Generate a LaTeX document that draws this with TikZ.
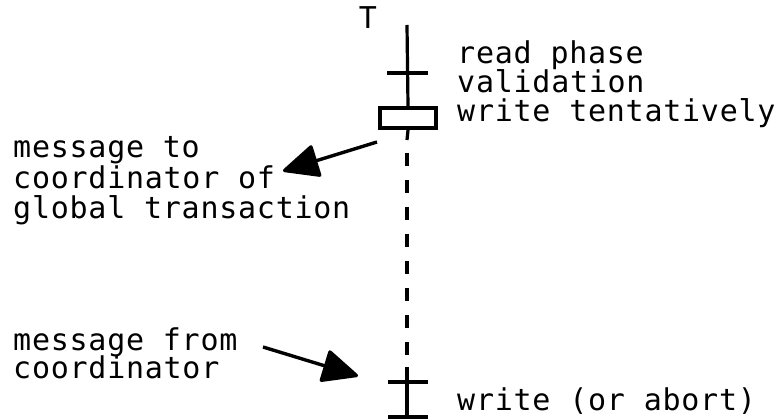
\documentclass[tikz,border=0pt]{standalone}
\usepackage{fontspec}
\newfontfamily\tw[LetterSpace=2.5]{DejaVu Sans Mono}
\usetikzlibrary{arrows.meta}
\begin{document}
\begin{tikzpicture}[x=1pt,y=-1pt,
  lbl/.style={anchor=base west,inner sep=0pt,font=\tw\fontsize{30}{30}\selectfont},
  lifeline/.style={line width=3.2pt},
  tickmark/.style={line width=3.4pt},
  bigarrow/.style={line width=3.4pt,-{Triangle[length=38pt,width=34pt,round]}},
  tbox/.style={draw,line width=4pt,minimum width=56pt,minimum height=20pt,inner sep=0pt}]
\useasboundingbox (0,0) rectangle (781,419);
% timeline
\node[anchor=base,inner sep=0pt,font=\tw\fontsize{30}{30}\selectfont] (T) at (368,29) {T};
\coordinate (top) at (407,25);
\node[tbox] (box) at (408,118) {};
\coordinate (dashstart) at (407,140);
\coordinate (dashend) at (407,367);
\coordinate (bot) at (407,417);
\draw[lifeline] (top) -- (box.north);
\draw[lifeline] (box.south) -- (dashstart);
\draw[lifeline,dash pattern=on 13pt off 14pt,dash phase=-13pt] (dashstart) -- (dashend);
\draw[lifeline] (dashend) -- (bot);
% ticks
\coordinate (t1a) at (387,73); \coordinate (t1b) at (428,73);
\coordinate (t2a) at (388,382); \coordinate (t2b) at (428,382);
\coordinate (t3a) at (388,417); \coordinate (t3b) at (428,417);
\draw[tickmark] (t1a) -- (t1b);
\draw[tickmark] (t2a) -- (t2b);
\draw[tickmark] (t3a) -- (t3b);
% right labels
\node[lbl] (rp) at (457,64) {read phase};
\node[lbl] (val) at (457,93) {validation};
\node[lbl] (wt) at (457,122) {write tentatively};
\node[lbl] (wa) at (457,410) {write (or abort)};
% left labels
\node[lbl] (m1) at (13,158) {message to};
\node[lbl] (m2) at (13,189) {coordinator of};
\node[lbl] (m3) at (13,219) {global transaction};
\node[lbl] (m4) at (13,350) {message from};
\node[lbl] (m5) at (13,378) {coordinator};
% arrows
\coordinate (a1s) at (377,142);
\coordinate (a1e) at (283,171);
\coordinate (a2s) at (263,347);
\coordinate (a2e) at (358,376);
\draw[bigarrow] (a1s) -- (a1e);
\draw[bigarrow] (a2s) -- (a2e);
\end{tikzpicture}
\end{document}
